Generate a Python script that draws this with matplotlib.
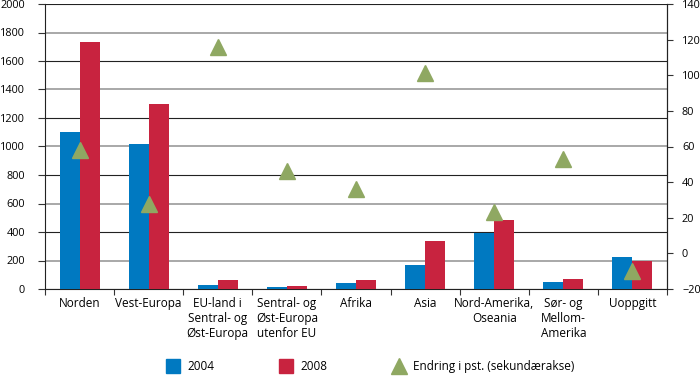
import matplotlib
matplotlib.use("Agg")
import matplotlib.pyplot as plt
from matplotlib.lines import Line2D
import numpy as np

plt.rcParams['font.family'] = ['Open Sans', 'DejaVu Sans']
plt.rcParams['font.size'] = 8.5

categories = ["Norden", "Vest-Europa", "EU-land i\nSentral- og\nØst-Europa",
              "Sentral- og\nØst-Europa\nutenfor EU", "Afrika", "Asia",
              "Nord-Amerika,\nOseania", "Sør- og\nMellom-\nAmerika", "Uoppgitt"]
v2004 = [1100, 1015, 30, 15, 45, 168, 395, 49, 222]
v2008 = [1735, 1295, 65, 20, 60, 335, 486, 70, 199]
endring = [58, 28, 116, 46, 36, 101, 23, 53, -10]

blue = "#0079c1"
red = "#c8233f"
green = "#8fa862"

fig = plt.figure(figsize=(7, 3.76), dpi=100)
ax = fig.add_axes([45/700, 1-289/376, 622/700, 285/376])
x = np.arange(len(categories))
w = 0.29
ax.bar(x - w/2, v2004, w, color=blue, zorder=3)
ax.bar(x + w/2, v2008, w, color=red, zorder=3)

ax.set_xlim(-0.5, len(categories) - 0.5)
ax.set_ylim(0, 2000)
ax.set_yticks(range(0, 2001, 200))
ax.set_xticks(x)
ax.set_xticklabels(categories, linespacing=1.2)
ax.set_xticks(np.arange(-0.5, len(categories), 1), minor=True)
ax.tick_params(axis='x', which='major', length=0, pad=6)
ax.tick_params(axis='x', which='minor', length=4, width=0.8, color="#333333")
ax.tick_params(axis='y', length=5, width=0.8, color="#333333", pad=9.5, labelsize=7.8)
ax.grid(axis='y', zorder=0)
for i, gl in enumerate(ax.get_ygridlines()):
    if i % 2 == 0:
        gl.set_color("#222222")
        gl.set_linewidth(0.8)
    else:
        gl.set_color("#999999")
        gl.set_linewidth(1.2)
ax.set_axisbelow(True)
ax.spines["top"].set_visible(False)
for s in ["left", "bottom", "right"]:
    ax.spines[s].set_color("#222222")
    ax.spines[s].set_linewidth(0.8)

ax2 = ax.twinx()
ax2.plot(x, endring, linestyle="none", marker="^", markersize=12, color=green, zorder=5)
ax2.set_ylim(-20, 140)
ax2.set_yticks(range(-20, 141, 20))
ax2.tick_params(axis='y', length=4.3, width=0.8, color="#333333", pad=6.5, labelsize=7.8)
for s in ["top", "left", "bottom"]:
    ax2.spines[s].set_visible(False)
ax2.spines["right"].set_color("#222222")
ax2.spines["right"].set_linewidth(0.8)

handles = [
    Line2D([], [], linestyle="none", marker="s", markersize=10, color=blue),
    Line2D([], [], linestyle="none", marker="s", markersize=10, color=red),
    Line2D([], [], linestyle="none", marker="^", markersize=12, color=green),
]
fig.legend(handles, ["2004", "2008", "Endring i pst. (sekundærakse)"], ncol=3,
           loc="center", bbox_to_anchor=(0.529, 0.024), frameon=False,
           columnspacing=5.5, handletextpad=0.6, handlelength=1.2)

fig.savefig("out.png", dpi=100)
